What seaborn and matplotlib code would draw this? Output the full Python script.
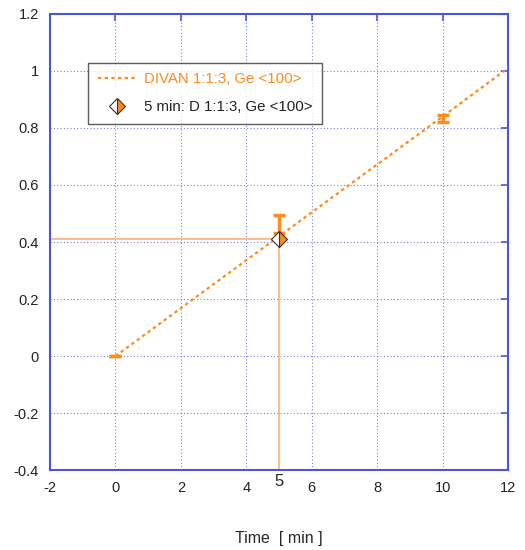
import matplotlib
matplotlib.use("Agg")
import matplotlib.pyplot as plt
import seaborn as sns
import pandas as pd

# ---- data ----
line_time = [0, 5, 10, 12]
line_value = [0.0, 0.42, 0.84, 1.01]
pt_time = [0, 5, 10]
pt_value = [0.0, 0.43, 0.833]
pt_err_low = [0.0, 0.0, 0.012]
pt_err_high = [0.0, 0.065, 0.012]
marker_time = [5]
marker_value = [0.41]
x_ticks = [-2, 0, 2, 4, 6, 8, 10, 12]
y_ticks = [-0.4, -0.2, 0, 0.2, 0.4, 0.6, 0.8, 1, 1.2]
y_tick_labels = ["-0.4", "-0.2", "0", "0.2", "0.4", "0.6", "0.8", "1", "1.2"]
line_label = "DIVAN 1:1:3, Ge <100>"
marker_label = "5 min: D 1:1:3, Ge <100>"
x_label = "Time  [ min ]"

sns.set_style("white")
plt.rcParams['font.family'] = ['Liberation Sans', 'DejaVu Sans']

ORANGE = "#FF8A1E"
LIGHT_OR = "#FFB26B"
BLUE = "#4A55DD"

fig = plt.figure(figsize=(5.25, 5.5), dpi=100)
ax = fig.add_axes([0.095, 0.145, 0.873, 0.830])

df_line = pd.DataFrame({"t": line_time, "v": line_value})
df_mark = pd.DataFrame({"t": marker_time, "v": marker_value})

# reference lines
ax.plot([-2, marker_time[0]], [marker_value[0], marker_value[0]], color=LIGHT_OR, lw=1.2, zorder=2)
ax.plot([marker_time[0], marker_time[0]], [-0.4, marker_value[0]], color=LIGHT_OR, lw=1.2, zorder=2)

sns.lineplot(data=df_line, x="t", y="v", ax=ax, color=ORANGE, lw=1.6,
             linestyle=(0, (1.5, 1.5)), label=line_label, zorder=3)

ax.errorbar(pt_time, pt_value, yerr=[pt_err_low, pt_err_high], fmt="none",
            ecolor=ORANGE, elinewidth=2.5, capsize=4.5, capthick=2.5, zorder=4)

ax.plot(df_mark["t"], df_mark["v"], linestyle="none", marker="D", markersize=8,
        fillstyle="right", markerfacecolor=ORANGE, markerfacecoloralt="white",
        markeredgecolor="#333333", markeredgewidth=0.8, label=marker_label, zorder=5)

ax.set_xlim(-2, 12)
ax.set_ylim(-0.4, 1.2)
ax.set_xticks(x_ticks)
ax.set_xticklabels([str(t) for t in x_ticks])
ax.set_yticks(y_ticks)
ax.set_yticklabels(y_tick_labels)
ax.grid(True, color=BLUE, linestyle=(0, (1, 2)), lw=0.8, alpha=0.75)
for s in ax.spines.values():
    s.set_color(BLUE)
    s.set_linewidth(1.5)
    s.set_visible(True)
ax.tick_params(axis="both", direction="in", length=5, width=1.2, color=BLUE,
               top=True, right=True, labelsize=10.5, labelcolor="#222222", pad=8)
ax.set_xlabel(x_label, fontsize=11.5, labelpad=26)
ax.set_ylabel("")

# extra "5" tick label
ax.text(marker_time[0], -0.4 - 0.014, "5", ha="center", va="top",
        fontsize=12, color="#222222")

leg = ax.legend(loc="upper left", bbox_to_anchor=(0.083, 0.893), borderaxespad=0,
                frameon=True, fancybox=False, edgecolor="#333333", fontsize=10.8,
                handlelength=2.6, handletextpad=0.5, borderpad=0.65, labelspacing=0.9)
leg.get_frame().set_linewidth(1.0)
leg.get_texts()[0].set_color(ORANGE)
leg.get_texts()[1].set_color("#222222")

fig.savefig("out.png", dpi=100)
